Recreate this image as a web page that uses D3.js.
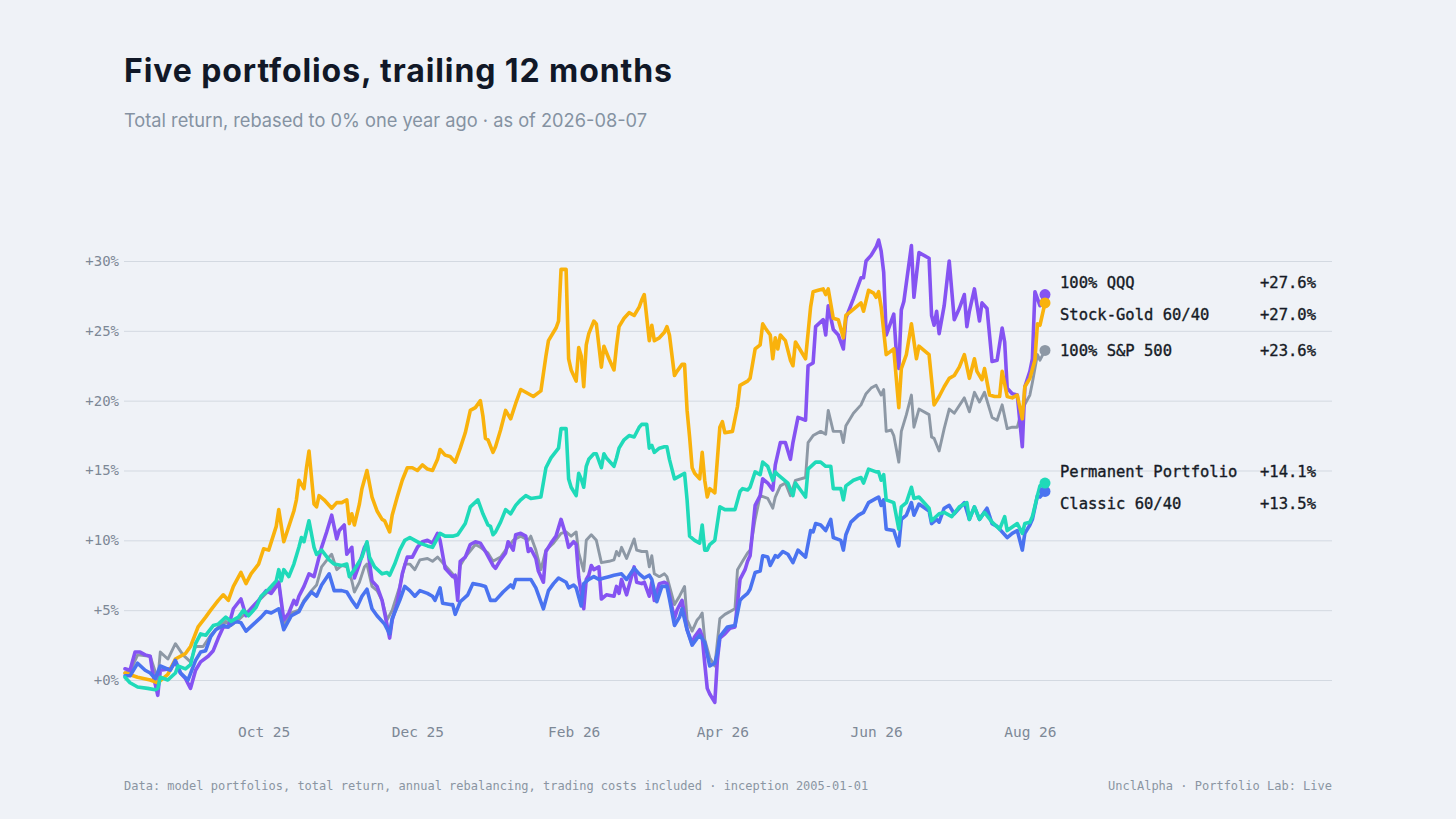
<!DOCTYPE html>
<html>
<head>
<meta charset="utf-8">
<script src="https://cdn.jsdelivr.net/npm/d3@7"></script>
<style>
  html, body { margin: 0; padding: 0; background: #eff2f7; }
  svg { display: block; }
</style>
</head>
<body>
<div id="chart"></div>
<script>
"use strict";

// window start, points are [days since START, % return]
const START = "2025-08-07";
const END = "2026-08-07";

const qqq = [[0,0.8],[2,0.7],[4,2.0],[6,2.0],[8,1.8],[10,1.7],[11,0.5],[13,-1.1],[14,0.7],[18,0.8],[20,1.3],[22,0.5],[24,0.1],[26,-0.6],[28,0.7],[30,1.3],[33,1.7],[35,2.1],[37,3.0],[39,3.8],[41,3.8],[43,5.1],[46,5.8],[48,4.6],[50,5.1],[53,5.7],[56,6.4],[58,6.2],[60,6.7],[61,7.0],[63,4.3],[65,4.8],[67,5.7],[68,5.4],[69,6.0],[71,6.7],[73,7.6],[75,7.4],[76,8.1],[78,9.5],[80,10.6],[82,11.8],[84,10.1],[85,10.7],[87,11.1],[88,9.0],[90,9.5],[91,7.3],[93,8.3],[95,9.5],[96,9.8],[98,7.1],[100,6.7],[102,5.7],[103,4.8],[105,3.0],[106,4.3],[108,5.5],[110,7.6],[112,8.8],[114,8.8],[116,9.5],[118,9.9],[120,10.0],[122,9.8],[124,10.5],[125,10.0],[127,8.0],[128,7.8],[130,7.4],[131,7.5],[132,5.7],[133,8.5],[135,8.8],[137,9.7],[139,9.9],[141,9.8],[143,9.2],[146,8.2],[147,8.0],[149,8.6],[151,9.1],[152,9.9],[154,9.3],[155,10.4],[157,10.5],[159,10.3],[160,9.2],[161,9.4],[163,8.7],[164,7.8],[166,7.0],[167,9.2],[169,9.8],[171,10.3],[173,11.5],[175,10.3],[176,9.5],[178,9.9],[179,9.7],[180,7.4],[182,5.1],[183,7.2],[184,7.5],[185,8.2],[186,7.9],[188,8.1],[189,5.8],[191,6.1],[194,6.0],[195,6.7],[196,6.2],[197,7.2],[199,6.1],[202,8.1],[203,7.0],[205,6.9],[206,7.0],[208,6.0],[209,7.0],[210,5.7],[212,6.9],[214,7.0],[215,6.9],[218,4.4],[219,5.0],[221,5.7],[223,3.6],[225,2.6],[226,3.1],[228,3.6],[229,3.1],[230,1.2],[231,-0.6],[232,-1.0],[234,-1.6],[235,1.4],[236,3.0],[238,3.3],[240,3.7],[242,3.8],[244,7.2],[246,7.9],[247,8.5],[248,8.9],[250,12.5],[252,13.2],[253,14.4],[255,14.1],[257,13.6],[258,15.4],[260,17.0],[262,17.0],[264,15.8],[265,17.0],[267,18.8],[270,18.6],[271,22.5],[273,22.7],[274,25.3],[277,25.8],[278,24.7],[279,26.8],[281,25.1],[283,24.7],[285,23.7],[286,25.9],[289,27.3],[292,28.8],[293,28.8],[294,30.0],[296,30.4],[298,31.0],[299,31.5],[300,30.7],[301,29.2],[302,24.7],[304,25.7],[305,26.2],[306,23.5],[307,22.3],[308,26.5],[309,27.1],[312,31.1],[313,27.4],[315,30.6],[319,30.2],[320,26.1],[321,25.4],[322,26.4],[323,24.8],[325,26.8],[327,30.0],[329,25.8],[331,26.6],[333,27.6],[334,25.3],[335,26.4],[337,28.0],[339,25.7],[340,27.0],[342,26.6],[344,22.8],[346,22.9],[348,25.2],[349,24.2],[350,20.9],[352,20.5],[354,20.4],[356,16.7],[357,21.0],[359,22.1],[360,23.0],[361,27.8],[363,26.8],[365,27.6]];

const stockGold = [[0,0.5],[5,0.2],[10,0.0],[13,-0.2],[17,0.4],[20,1.5],[24,1.9],[26,2.4],[29,3.8],[32,4.5],[34,5.0],[37,5.7],[39,6.1],[41,5.7],[43,6.7],[46,7.7],[48,6.9],[50,7.6],[53,8.3],[55,9.4],[57,9.3],[60,11.0],[61,12.2],[63,9.9],[65,11.0],[67,12.1],[68,12.9],[69,14.3],[71,13.7],[72,15.2],[73,16.4],[75,12.6],[76,12.4],[77,13.2],[79,12.9],[82,12.3],[84,12.7],[86,12.7],[88,12.9],[89,11.2],[90,11.9],[91,11.1],[93,12.6],[94,13.7],[96,15.0],[98,13.1],[100,12.1],[102,11.5],[103,11.4],[105,10.6],[106,11.8],[108,13.1],[110,14.3],[112,15.2],[114,15.2],[116,15.0],[118,15.4],[120,15.1],[122,15.0],[124,15.8],[125,16.5],[127,16.1],[129,16.0],[131,15.6],[133,16.6],[135,17.7],[137,19.3],[139,19.5],[141,20.0],[142,18.9],[143,17.3],[144,17.2],[146,16.3],[147,16.7],[149,17.9],[151,19.3],[153,18.7],[155,19.8],[157,20.8],[159,20.6],[162,20.3],[165,20.7],[167,23.2],[168,24.3],[171,25.2],[172,25.7],[173,29.4],[175,29.4],[176,23.0],[177,22.2],[179,21.4],[180,23.8],[181,23.2],[182,21.0],[183,24.0],[184,24.8],[186,25.7],[187,25.5],[189,22.4],[190,23.9],[192,23.0],[194,22.2],[195,23.9],[196,25.3],[198,25.9],[200,26.3],[202,26.1],[204,26.7],[205,27.2],[206,27.6],[208,24.3],[209,25.4],[210,24.3],[212,24.5],[214,24.9],[215,25.3],[216,24.7],[218,21.8],[219,22.1],[221,22.6],[222,22.6],[223,19.3],[224,17.4],[225,15.2],[226,14.8],[228,14.4],[229,16.3],[230,14.3],[231,13.1],[232,13.7],[234,13.4],[236,18.1],[237,18.5],[238,17.7],[241,17.8],[243,19.6],[244,21.1],[247,21.4],[248,21.6],[250,23.7],[252,24.0],[253,25.5],[254,25.2],[256,24.7],[257,23.0],[258,24.5],[259,23.7],[260,24.7],[262,24.3],[264,22.9],[265,22.5],[266,24.2],[270,23.0],[272,26.7],[273,27.8],[275,27.9],[277,28.0],[278,27.6],[279,28.0],[281,25.9],[283,25.8],[285,24.5],[286,26.1],[288,26.4],[290,26.7],[292,27.0],[293,26.4],[295,27.9],[297,27.7],[298,27.4],[299,27.8],[300,26.7],[302,23.3],[305,23.7],[307,19.5],[308,22.3],[310,23.3],[312,25.5],[314,23.0],[315,23.9],[319,23.3],[321,19.7],[323,20.3],[325,21.0],[327,21.6],[329,21.8],[331,22.4],[333,23.3],[335,21.6],[337,23.0],[338,22.1],[340,21.5],[341,22.3],[343,20.4],[345,20.3],[347,20.3],[348,22.1],[350,20.3],[352,20.2],[354,20.4],[356,18.7],[357,21.0],[359,21.6],[361,22.9],[362,25.5],[363,25.4],[365,27.0]];

const sp500 = [[0,0.5],[2,0.6],[5,1.8],[10,1.7],[12,0.6],[13,0.0],[14,2.0],[17,1.5],[20,2.6],[23,1.8],[26,1.3],[28,2.4],[31,2.4],[34,3.2],[37,3.8],[40,4.2],[42,3.9],[45,4.3],[48,4.8],[52,5.5],[56,6.2],[59,6.7],[61,7.0],[63,4.0],[66,4.8],[69,5.0],[71,5.7],[74,6.4],[76,6.8],[78,8.1],[81,8.8],[82,9.0],[84,7.9],[86,8.2],[88,8.1],[90,7.1],[91,6.3],[93,7.0],[95,8.1],[96,8.3],[98,6.7],[100,6.4],[102,5.7],[104,4.3],[106,5.0],[109,6.7],[111,8.3],[113,8.3],[115,7.9],[117,8.6],[120,8.7],[122,8.5],[124,8.8],[125,8.6],[128,8.0],[130,7.6],[132,6.8],[133,8.2],[135,8.8],[139,9.7],[141,9.5],[144,9.1],[146,8.5],[149,8.8],[151,9.3],[154,10.0],[157,10.3],[160,10.0],[161,10.3],[163,9.3],[165,7.9],[167,9.3],[170,9.8],[173,10.5],[175,10.6],[177,10.3],[179,10.6],[180,9.1],[182,7.8],[183,10.0],[185,10.4],[187,10.0],[189,8.4],[192,8.5],[194,8.6],[195,9.2],[196,8.9],[197,9.5],[198,9.1],[199,8.7],[202,10.1],[203,9.3],[205,9.2],[207,9.2],[208,8.1],[209,8.9],[210,7.6],[212,7.4],[214,7.6],[215,7.4],[218,5.4],[220,6.0],[222,6.7],[223,4.3],[225,3.5],[227,4.3],[228,4.5],[229,4.8],[230,2.9],[232,1.6],[234,1.0],[236,4.4],[238,4.7],[242,5.1],[243,7.9],[245,8.5],[247,9.1],[248,9.3],[250,11.5],[252,13.2],[255,13.0],[257,12.3],[258,13.1],[260,13.9],[262,14.1],[264,13.2],[266,14.3],[270,14.5],[271,17.0],[273,17.5],[276,17.8],[278,17.6],[279,19.3],[281,17.8],[284,17.8],[285,17.0],[286,18.2],[289,19.1],[292,19.7],[294,20.5],[296,20.9],[298,21.1],[300,20.4],[301,20.8],[302,17.8],[304,17.9],[305,17.5],[307,15.6],[308,17.8],[310,19.0],[312,20.4],[313,18.1],[315,19.4],[319,19.0],[320,17.4],[321,17.3],[323,16.4],[325,18.0],[327,19.4],[329,19.1],[333,20.2],[335,19.2],[337,20.6],[339,19.9],[341,20.6],[344,18.8],[346,18.6],[348,19.7],[350,18.0],[352,18.1],[354,18.1],[356,19.4],[359,20.4],[360,21.3],[362,23.3],[363,22.9],[365,23.6]];

const permanent = [[0,0.2],[2,-0.2],[5,-0.5],[9,-0.6],[12,-0.7],[13,-0.6],[14,0.2],[17,0.0],[20,0.5],[21,1.0],[24,0.8],[26,1.1],[28,2.6],[30,3.3],[32,3.2],[35,3.9],[37,4.0],[40,4.5],[42,4.2],[45,4.5],[47,5.0],[49,4.6],[52,5.2],[54,6.0],[57,6.5],[60,7.1],[61,7.9],[62,7.1],[63,7.9],[65,7.4],[67,8.3],[69,9.5],[70,10.2],[71,9.9],[73,11.4],[75,9.5],[76,9.0],[78,9.3],[81,8.6],[83,8.3],[86,8.2],[88,8.3],[89,7.4],[91,7.9],[94,8.8],[96,9.9],[97,8.8],[99,8.1],[102,7.6],[104,7.7],[105,7.5],[107,8.3],[109,9.3],[111,10.0],[113,10.2],[115,10.0],[117,9.8],[120,9.6],[122,9.5],[125,10.5],[127,10.3],[130,10.3],[132,10.4],[135,11.2],[137,12.4],[140,12.9],[142,11.9],[144,11.1],[145,11.0],[146,10.4],[147,10.6],[149,11.3],[151,12.2],[153,11.9],[155,12.5],[157,12.9],[159,13.2],[161,13.0],[165,13.1],[167,15.2],[169,15.9],[172,16.6],[173,18.0],[175,18.0],[176,14.4],[177,13.8],[179,13.2],[180,14.8],[181,14.4],[182,13.8],[183,15.3],[184,15.8],[186,16.2],[187,16.2],[189,15.2],[190,16.2],[191,15.9],[194,15.3],[195,15.9],[196,16.6],[198,17.2],[200,17.5],[202,17.4],[204,18.1],[205,18.3],[207,18.3],[208,16.6],[209,16.8],[210,16.3],[212,16.6],[214,16.7],[215,16.7],[216,15.8],[218,14.4],[220,14.6],[222,14.8],[223,12.9],[224,10.3],[226,10.0],[228,9.8],[229,11.1],[230,9.3],[231,9.3],[232,9.7],[234,10.0],[236,12.4],[238,12.2],[242,12.2],[244,13.5],[245,13.7],[247,13.6],[248,13.8],[250,14.9],[252,14.7],[253,15.6],[255,15.3],[257,14.3],[258,14.9],[259,14.7],[261,14.4],[263,14.1],[265,13.2],[266,14.1],[270,13.1],[271,15.1],[274,15.6],[276,15.6],[278,15.3],[280,15.3],[281,13.7],[284,13.7],[285,12.9],[286,13.9],[289,14.3],[292,14.5],[293,14.1],[295,15.1],[298,14.9],[299,14.9],[300,14.3],[301,14.7],[302,12.9],[305,12.7],[307,10.8],[308,12.4],[310,12.7],[312,13.8],[313,13.0],[315,13.1],[319,12.3],[320,11.4],[323,11.9],[325,12.0],[328,11.7],[331,12.4],[334,12.7],[335,11.5],[337,12.4],[339,11.5],[341,12.0],[344,11.3],[347,10.8],[349,11.7],[350,10.7],[354,11.2],[356,10.5],[357,11.2],[359,11.3],[360,11.7],[362,13.2],[363,13.9],[365,14.1]];

const classic = [[0,0.3],[2,0.3],[5,1.2],[8,0.7],[10,0.5],[12,0.1],[14,1.0],[18,0.7],[20,1.4],[22,0.5],[25,0.0],[28,1.4],[30,2.0],[32,2.1],[34,3.1],[36,3.6],[39,3.9],[41,3.8],[44,4.2],[46,4.1],[48,3.5],[51,4.0],[54,4.5],[56,4.9],[58,4.8],[61,5.1],[63,3.6],[66,4.6],[69,4.9],[71,5.6],[74,6.3],[76,6.0],[78,6.8],[81,7.6],[83,6.4],[86,6.4],[88,6.3],[90,5.7],[92,5.2],[94,6.0],[96,6.5],[98,5.1],[100,4.6],[103,4.0],[105,3.3],[106,4.4],[109,5.7],[111,6.7],[113,6.4],[115,6.0],[117,6.4],[120,6.2],[122,6.0],[123,5.7],[125,6.6],[126,5.5],[129,5.4],[130,5.4],[131,4.7],[133,5.6],[136,6.1],[138,6.9],[141,6.8],[143,6.7],[145,5.7],[147,5.7],[150,6.3],[153,6.8],[154,6.6],[155,7.2],[158,7.2],[161,7.2],[163,6.6],[166,5.1],[168,6.4],[170,6.9],[172,7.3],[175,7.0],[176,6.6],[178,6.8],[179,6.6],[181,5.3],[182,6.9],[184,7.2],[186,7.4],[188,7.2],[190,7.3],[192,7.4],[194,7.5],[197,7.6],[199,7.2],[202,8.0],[204,7.6],[206,7.3],[208,7.5],[209,7.2],[211,5.6],[213,6.7],[215,6.7],[216,5.8],[218,3.9],[220,4.5],[221,5.1],[223,3.6],[225,2.5],[227,3.0],[228,3.2],[230,2.7],[232,1.0],[234,1.2],[235,1.9],[236,3.1],[239,3.8],[242,3.9],[244,5.7],[245,5.9],[247,6.2],[248,6.5],[250,7.7],[252,7.8],[253,8.9],[255,8.8],[256,8.2],[258,8.9],[259,8.8],[261,9.2],[263,9.0],[265,8.4],[267,9.3],[270,8.8],[272,10.7],[273,10.6],[274,11.2],[276,11.1],[278,10.7],[280,11.5],[281,10.2],[284,10.0],[285,9.3],[286,10.4],[288,11.3],[291,11.8],[293,12.0],[295,12.7],[298,13.0],[299,13.1],[300,12.5],[301,12.9],[302,10.8],[305,10.7],[307,9.6],[308,11.5],[310,11.8],[312,12.7],[313,11.8],[315,12.6],[319,12.1],[320,11.2],[322,11.5],[323,11.3],[325,12.3],[327,12.5],[329,11.9],[333,12.7],[335,11.5],[337,12.4],[339,11.5],[342,12.3],[344,11.2],[346,11.0],[350,10.2],[352,10.5],[354,10.7],[356,9.3],[357,10.5],[359,11.1],[360,11.5],[362,13.2],[363,13.1],[365,13.5]];

const seriesNames = ["100% S&P 500", "100% QQQ", "Stock-Gold 60/40", "Classic 60/40", "Permanent Portfolio"];
const seriesData = [sp500, qqq, stockGold, classic, permanent];
const seriesColors = ["#8d98a5", "#8553f2", "#f9b20c", "#4a73f0", "#1fdab9"];

const yTicks = [0, 5, 10, 15, 20, 25, 30];
const xTickLabels = ["2025-10-01", "2025-12-01", "2026-02-01", "2026-04-01", "2026-06-01", "2026-08-01"];

const title = "Five portfolios, trailing 12 months";
const subtitle = "Total return, rebased to 0% one year ago · as of 2026-08-07";
const footLeft = "Data: model portfolios, total return, annual rebalancing, trading costs included · inception 2005-01-01";
const footRight = "UnclAlpha · Portfolio Lab: Live";

const W = 1456, H = 819;
const mono = "'DejaVu Sans Mono', 'Liberation Mono', monospace";
const sans = "Inter, 'Noto Sans', sans-serif";

const parse = d3.timeParse("%Y-%m-%d");
const start = parse(START);
const end = parse(END);
const dateOf = (d) => d3.timeDay.offset(start, d);

const x = d3.scaleTime().domain([start, end]).range([125, 1045]);
const y = d3.scaleLinear().domain([0, 30]).range([680, 261]);

const svg = d3.select('#chart')
  .append('svg')
  .attr('width', W)
  .attr('height', H);

svg.append('rect')
  .attr('width', W)
  .attr('height', H)
  .attr('fill', '#eff2f7');

// titles
svg.append('text')
  .attr('x', 124)
  .attr('y', 82)
  .attr('font-family', sans)
  .attr('font-weight', 700)
  .attr('font-size', 32)
  .attr('textLength', 548)
  .attr('lengthAdjust', 'spacing')
  .attr('fill', '#111827')
  .text(title);

svg.append('text')
  .attr('x', 124)
  .attr('y', 127)
  .attr('font-family', sans)
  .attr('font-size', 18.5)
  .attr('textLength', 523)
  .attr('lengthAdjust', 'spacingAndGlyphs')
  .attr('fill', '#8592a2')
  .text(subtitle);

// y grid + labels
const yAxis = svg.append('g')
  .attr('transform', 'translate(124,0)')
  .call(d3.axisLeft(y)
    .tickValues(yTicks)
    .tickSize(-(1332 - 124))
    .tickPadding(5)
    .tickFormat(d => `+${d}%`));

yAxis.select('.domain').remove();
yAxis.selectAll('line').attr('stroke', '#d3d9e1').attr('stroke-width', 1);
yAxis.selectAll('text')
  .attr('font-family', mono)
  .attr('font-size', 14)
  .attr('fill', '#7d8896');

// x labels
const xAxis = svg.append('g')
  .attr('transform', 'translate(0,724)')
  .call(d3.axisBottom(x)
    .tickValues(xTickLabels.map(parse))
    .tickSize(0)
    .tickPadding(3)
    .tickFormat(d3.timeFormat('%b %y')));

xAxis.select('.domain').remove();
xAxis.selectAll('text')
  .attr('font-family', mono)
  .attr('font-size', 14.5)
  .attr('fill', '#7d8896');

// lines
const line = d3.line()
  .x(d => x(dateOf(d[0])))
  .y(d => y(d[1]));

const series = seriesNames.map((name, i) => ({
  name,
  data: seriesData[i],
  color: seriesColors[i],
  last: seriesData[i][seriesData[i].length - 1]
}));

svg.append('g')
  .selectAll('path')
  .data(series)
  .enter().append('path')
    .attr('d', d => line(d.data))
    .attr('fill', 'none')
    .attr('stroke', d => d.color)
    .attr('stroke-width', d => d.name === '100% S&P 500' ? 2.9 : 3.6)
    .attr('stroke-linejoin', 'round')
    .attr('stroke-linecap', 'round');

svg.append('g')
  .selectAll('circle')
  .data(series)
  .enter().append('circle')
    .attr('cx', d => x(dateOf(d.last[0])))
    .attr('cy', d => y(d.last[1]))
    .attr('r', 5.5)
    .attr('fill', d => d.color);

// end labels, pushed apart so they don't overlap
const labels = series.map(s => ({ ...s, ty: y(s.last[1]) }))
  .sort((a, b) => a.ty - b.ty);

const gap = 32;
let groups = labels.map(l => ({ members: [l], center: l.ty }));
let merged = true;
while (merged) {
  merged = false;
  for (let i = 0; i < groups.length - 1; i++) {
    const a = groups[i];
    const b = groups[i + 1];
    const aBottom = a.center + (a.members.length - 1) * gap / 2;
    const bTop = b.center - (b.members.length - 1) * gap / 2;
    if (bTop - aBottom < gap) {
      const members = a.members.concat(b.members);
      groups.splice(i, 2, { members, center: d3.mean(members, m => m.ty) });
      merged = true;
      break;
    }
  }
}
groups.forEach(g => {
  g.members.forEach((m, k) => {
    m.ly = g.center + (k - (g.members.length - 1) / 2) * gap;
  });
});

const fmt = d3.format('+.1f');
const lab = svg.append('g')
  .selectAll('g')
  .data(labels)
  .enter().append('g')
    .attr('transform', d => `translate(0,${d.ly})`);

lab.append('text')
  .attr('x', 1060)
  .attr('dy', '0.35em')
  .attr('font-family', mono)
  .attr('font-size', 15.5)
  .attr('fill', '#161b26')
  .attr('stroke', '#161b26')
  .attr('stroke-width', 0.35)
  .text(d => d.name);

lab.append('text')
  .attr('x', 1316)
  .attr('dy', '0.35em')
  .attr('text-anchor', 'end')
  .attr('font-family', mono)
  .attr('font-size', 15.5)
  .attr('fill', '#161b26')
  .attr('stroke', '#161b26')
  .attr('stroke-width', 0.35)
  .text(d => fmt(d.last[1]) + '%');

// footer
svg.append('text')
  .attr('x', 124)
  .attr('y', 790)
  .attr('font-family', mono)
  .attr('font-size', 12)
  .attr('fill', '#8a95a2')
  .text(footLeft);

svg.append('text')
  .attr('x', 1332)
  .attr('y', 790)
  .attr('text-anchor', 'end')
  .attr('font-family', mono)
  .attr('font-size', 12)
  .attr('fill', '#8a95a2')
  .text(footRight);
</script>
</body>
</html>
